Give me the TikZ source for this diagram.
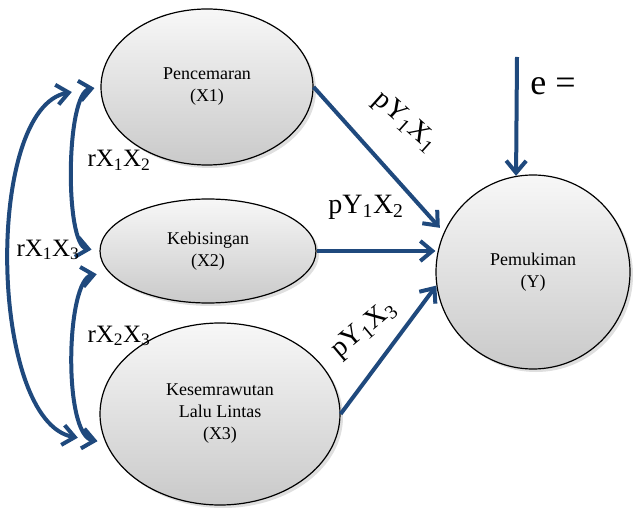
\documentclass[tikz,border=0pt]{standalone}
\usepackage{fontspec}
\setmainfont{Liberation Serif}
\usetikzlibrary{positioning, arrows.meta, shapes.geometric, shadows}
\definecolor{pathblue}{RGB}{31,73,125}

\begin{document}
\begin{tikzpicture}[x=1pt, y=1pt, >={Straight Barb[length=12pt, width=20pt]},
  var/.style={ellipse, draw, line width=1.2pt, align=center, inner sep=0pt,
    top color=gray!6, bottom color=gray!42,
    drop shadow={opacity=0.25, shadow xshift=3pt, shadow yshift=-3pt},
    font=\fontsize{18}{22}\selectfont},
  link/.style={pathblue, line width=4pt, ->},
  corr/.style={pathblue, line width=4pt, <->},
  coef/.style={font=\fontsize{28}{30}\selectfont},
  rlab/.style={font=\fontsize{25}{28}\selectfont}]
\useasboundingbox (0,0) rectangle (639,-510);
\node[var, minimum width=212, minimum height=156] (x1) at (207,-87) {Pencemaran\\(X1)};
\node[var, minimum width=216, minimum height=104] (x2) at (208,-251) {Kebisingan\\(X2)};
\node[var, minimum width=240, minimum height=182] (x3) at (220,-414) {Kesemrawutan\\Lalu Lintas\\(X3)};
\node[var, circle, minimum size=194] (y) at (533,-272) {Pemukiman\\(Y)};
\coordinate (e) at (517,-57);
% paths to Y
\draw[link, shorten >=6pt] (x1.east) -- (y.156);
\draw[link] (x2.east) -- (y.west |- x2.east);
\draw[link] (x3.east) -- (y.188);
\draw[link] (e) -- (y.100);
% correlations
\draw[corr, shorten <=29pt, shorten >=28pt] (x1.west) to[out=190, in=170, looseness=0.85] (x3.194);
\draw[corr, shorten <=6pt, shorten >=8pt] (x1.west) to[out=190, in=170, looseness=0.55] (x2.west);
\draw[corr, shorten <=12pt, shorten >=8pt] (x2.192) to[out=190, in=170, looseness=0.65] (x3.194);
% labels
\node[rlab] (r12) at (119,-160) {rX\textsubscript{1}X\textsubscript{2}};
\node[rlab] (r13) at (48,-250) {rX\textsubscript{1}X\textsubscript{3}};
\node[rlab] (r23) at (119,-336) {rX\textsubscript{2}X\textsubscript{3}};
\node[coef] (p2) at (366,-207) {pY\textsubscript{1}X\textsubscript{2}};
\node[coef, rotate=-42] (p1) at (405,-122) {pY\textsubscript{1}X\textsubscript{1}};
\node[coef, rotate=40] (p3) at (364,-330) {pY\textsubscript{1}X\textsubscript{3}};
\node[font=\fontsize{36}{40}\selectfont] (eq) at (553,-86) {e =};
\end{tikzpicture}
\end{document}
